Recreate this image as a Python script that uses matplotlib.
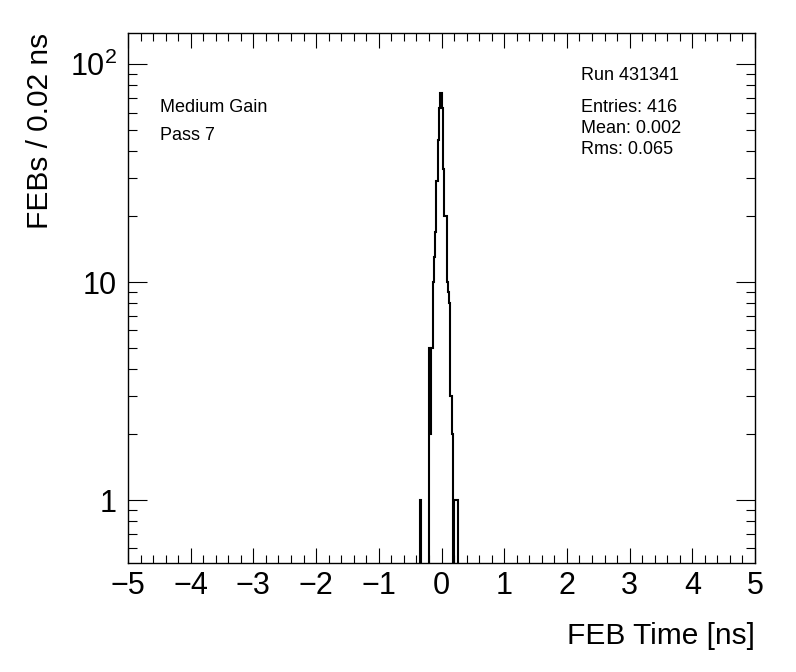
import numpy as np
import matplotlib
matplotlib.use('Agg')
import matplotlib.pyplot as plt
from matplotlib.ticker import FixedLocator, NullFormatter

# FEB time histogram, 0.02 ns bins, only the non-empty bins are listed
bin_low = [-0.34, -0.20, -0.18, -0.16, -0.14, -0.12, -0.10, -0.08, -0.06,
           -0.04, -0.02, 0.00, 0.02, 0.04, 0.06, 0.08, 0.10, 0.12, 0.14,
           0.16, 0.20, 0.22, 0.24]
counts = [1, 5, 2, 5, 10, 13, 17, 29, 45,
          63, 74, 63, 33, 20, 20, 10, 9, 8, 3,
          2, 1, 1, 1]

x_min, x_max, bin_width = -5.0, 5.0, 0.02
y_min, y_max = 0.514, 139

x_ticks = [-5, -4, -3, -2, -1, 0, 1, 2, 3, 4, 5]
y_ticks = [1, 10, 100]
y_tick_labels = ['1', '10', r'$\mathregular{10^{2}}$']

left_text = ['Medium Gain', 'Pass 7']
run_text = 'Run 431341'
stats_text = ['Entries: 416', 'Mean: 0.002', 'Rms: 0.065']

FONT = 'Liberation Sans'
plt.rcParams['font.family'] = [FONT, 'DejaVu Sans']
plt.rcParams['mathtext.fontset'] = 'custom'
plt.rcParams['mathtext.rm'] = FONT
plt.rcParams['mathtext.it'] = FONT + ':italic'


def main():
    n_bins = int(round((x_max - x_min) / bin_width))
    edges = np.linspace(x_min, x_max, n_bins + 1)
    values = np.zeros(n_bins)
    for lo, c in zip(bin_low, counts):
        values[int(round((lo - x_min) / bin_width))] = c

    W, H = 796, 672
    fig = plt.figure(figsize=(W / 100, H / 100), dpi=100)
    l, r, t, b = 128, 755, 33, 563
    ax = fig.add_axes([l / W, 1 - b / H, (r - l) / W, (b - t) / H])

    # empty bins go below the frame so they are clipped like in ROOT
    ax.stairs(np.where(values > 0, values, 1e-3), edges,
              color='black', lw=1.5, baseline=None)

    ax.set_yscale('log')
    ax.set_xlim(x_min, x_max)
    ax.set_ylim(y_min, y_max)

    ax.xaxis.set_major_locator(FixedLocator(x_ticks))
    ax.xaxis.set_minor_locator(FixedLocator(np.arange(-5, 5.01, 0.2)))
    ax.set_xticklabels([str(v).replace('-', '\u2212') for v in x_ticks])

    minors = [m * d for d in (1, 10) for m in range(2, 10)] + [0.6, 0.7, 0.8, 0.9]
    ax.yaxis.set_major_locator(FixedLocator(y_ticks))
    ax.yaxis.set_minor_locator(FixedLocator(minors))
    ax.yaxis.set_minor_formatter(NullFormatter())
    ax.set_yticklabels(y_tick_labels)

    ax.tick_params(axis='both', which='both', direction='in',
                   top=True, right=True, width=0.8, labelsize=22)
    ax.tick_params(axis='x', which='major', length=11, pad=6)
    ax.tick_params(axis='x', which='minor', length=6)
    ax.tick_params(axis='y', which='major', length=14, pad=8)
    ax.tick_params(axis='y', which='minor', length=6.5)
    for s in ax.spines.values():
        s.set_linewidth(1.0)

    fig.text(r / W, 1 - 636 / H, 'FEB Time [ns]', ha='right', va='center',
             fontsize=21.5)
    fig.text(40 / W, 1 - 33 / H, 'FEBs / 0.02 ns', ha='center', va='top',
             rotation=90, fontsize=21.5)

    for i, s in enumerate(left_text):
        fig.text(160 / W, 1 - (107 + 28 * i) / H, s, ha='left',
                 va='center', fontsize=13)
    fig.text(581 / W, 1 - 75 / H, run_text, ha='left', va='center',
             fontsize=13)
    for i, s in enumerate(stats_text):
        fig.text(581 / W, 1 - (108 + 20.5 * i) / H, s, ha='left',
                 va='center', fontsize=13)

    fig.savefig('out.png', dpi=100)


if __name__ == '__main__':
    main()
